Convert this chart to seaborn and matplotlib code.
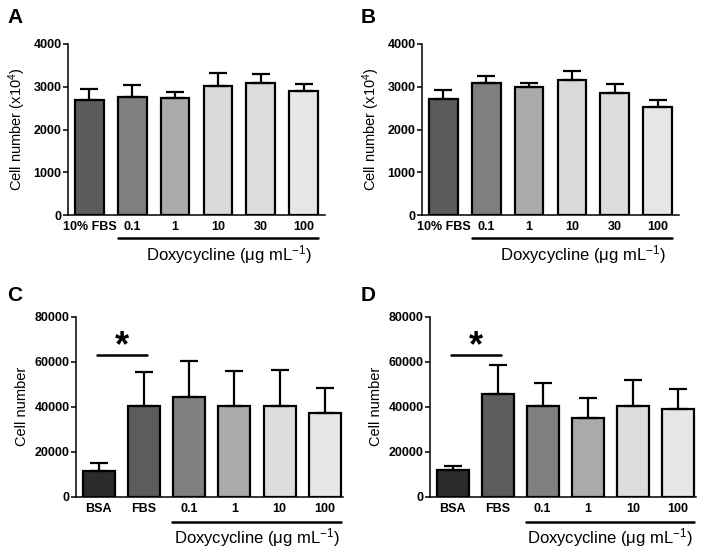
import numpy as np
import pandas as pd
import matplotlib
matplotlib.use("Agg")
import matplotlib.pyplot as plt
import matplotlib.transforms as mtransforms
import seaborn as sns

sns.set_style("ticks")
plt.rcParams['font.family'] = ['Liberation Sans', 'DejaVu Sans']
plt.rcParams['mathtext.fontset'] = 'custom'
plt.rcParams['mathtext.rm'] = 'Liberation Sans'
plt.rcParams['mathtext.default'] = 'regular'
for key in ['text.color', 'axes.labelcolor', 'xtick.color', 'ytick.color',
            'axes.edgecolor']:
    plt.rcParams[key] = 'black'

# ---- data ----
cats_top = ['10% FBS', '0.1', '1', '10', '30', '100']
a_mean = [2700, 2760, 2730, 3020, 3090, 2900]
a_sem = [240, 270, 150, 290, 210, 160]
b_mean = [2720, 3080, 2990, 3160, 2850, 2520]
b_sem = [210, 170, 100, 220, 220, 170]
colors_top = ['#5b5b5b', '#7f7f7f', '#ababab', '#d9d9d9', '#dcdcdc', '#e6e6e6']

cats_bot = ['BSA', 'FBS', '0.1', '1', '10', '100']
c_mean = [11400, 40200, 44200, 40100, 40500, 37100]
c_sem = [3400, 15300, 16100, 15700, 15700, 11100]
d_mean = [11700, 45800, 40500, 34900, 40100, 39000]
d_sem = [2100, 12600, 10200, 8900, 11800, 8900]
colors_bot = ['#2b2b2b', '#5c5c5c', '#808080', '#aaaaaa', '#dcdcdc', '#e6e6e6']

dox_label = 'Doxycycline (μg mL$^{-1}$)'

fig = plt.figure(figsize=(7.09, 5.55), dpi=100)
W, H = 709, 555

def add_ax(l, r, t, b):
    return fig.add_axes([l / W, 1 - b / H, (r - l) / W, (b - t) / H])

def draw_panel(ax, cats, means, sems, colors, width, ylim, yticks, ylabel,
               line_x, text_x, line_y, text_y, xlim):
    df = pd.DataFrame({'cond': cats, 'val': means})
    sns.barplot(data=df, x='cond', y='val', hue='cond', order=cats,
                hue_order=cats, palette=colors, width=width, legend=False,
                edgecolor='black', linewidth=1.6, saturation=1, ax=ax)
    x = np.arange(len(cats))
    ax.errorbar(x, means, yerr=[np.zeros(len(sems)), sems], fmt='none',
                ecolor='black', elinewidth=1.6, capsize=6.5, capthick=1.6,
                zorder=1)
    ax.set_ylim(*ylim)
    ax.set_xlim(*xlim)
    ax.set_yticks(yticks)
    ax.set_ylabel(ylabel, fontsize=10.5, labelpad=4)
    ax.set_xlabel('')
    sns.despine(ax=ax)
    for s in ['left', 'bottom']:
        ax.spines[s].set_linewidth(1.1)
    ax.tick_params(axis='y', length=3.5, width=1.1, pad=1, labelsize=9)
    ax.tick_params(axis='x', length=0, pad=4.5, labelsize=9)
    for lab in ax.get_xticklabels() + ax.get_yticklabels():
        lab.set_fontweight('bold')
    trans = mtransforms.blended_transform_factory(ax.transData, ax.transAxes)
    ax.plot(line_x, [line_y, line_y], color='black', lw=1.8,
            transform=trans, clip_on=False)
    ax.text(text_x, text_y, dox_label, transform=trans, ha='center',
            va='center', fontsize=12)

# Panel A and B
axA = add_ax(68, 325, 44, 215)
axB = add_ax(422, 679, 44, 215)
for ax, m, s in [(axA, a_mean, a_sem), (axB, b_mean, b_sem)]:
    draw_panel(ax, cats_top, m, s, colors_top, 0.67, (0, 4000),
               [0, 1000, 2000, 3000, 4000], 'Cell number (x10$^4$)',
               [0.66, 5.33], 3.25, -0.135, -0.23, (-0.5, 5.5))

# Panel C and D
axC = add_ax(76, 343, 316.7, 496.7)
axD = add_ax(430, 696, 316.7, 496.7)
for ax, m, s in [(axC, c_mean, c_sem), (axD, d_mean, d_sem)]:
    draw_panel(ax, cats_bot, m, s, colors_bot, 0.71, (0, 80000),
               [0, 20000, 40000, 60000, 80000], 'Cell number',
               [1.63, 5.35], 3.5, -0.141, -0.229, (-0.5, 5.4))
    ax.plot([-0.03, 1.07], [63200, 63200], color='black', lw=1.8,
            clip_on=False)
    ax.text(0.52, 66500, '*', ha='center', va='center', fontsize=26,
            fontweight='bold')

for ax, letter, (px, py) in [(axA, 'A', (7, 23)), (axB, 'B', (361, 23)),
                             (axC, 'C', (7, 301)), (axD, 'D', (361, 301))]:
    fig.text(px / W, 1 - py / H, letter, fontsize=15, fontweight='bold',
             ha='left', va='baseline')

fig.savefig('out.png', dpi=100)
